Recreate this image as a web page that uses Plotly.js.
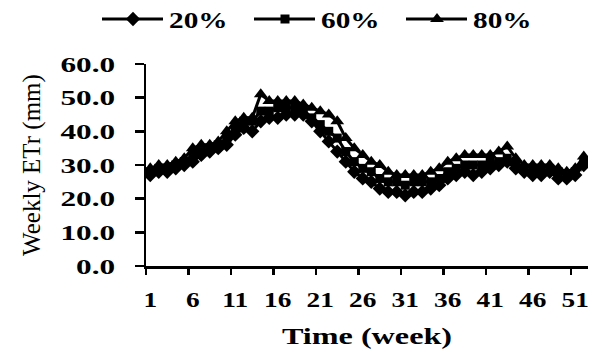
<!DOCTYPE html>
<html>
<head>
<meta charset="utf-8">
<script src="https://cdn.plot.ly/plotly-3.0.1.min.js"></script>
<style>html,body{margin:0;padding:0;background:#fff;}#chart{width:599px;height:349px;}</style>
</head>
<body>
<div id="chart"></div>
<script>
const weeks = Array.from({length: 52}, (_, i) => i + 1);
const seriesNames = ["20%", "60%", "80%"];
const etr20 = [27,28,28,29,30,31,33,34,35,36,39,41,40,43,44,44,45,45,45,43,40,37,34,31,28,26,25,23,22,22,21,22,22,23,24,26,27,28,27,28,29,30,31,29,28,27,27,28,26,26,27,30];
const etr60 = [28,29,29,30,31,33,34,35,36,38,41,43,43,46,46,47,47,47,46,44,42,40,38,34,31,29,28,26,25,25,24,25,25,25,26,28,29,30,30,30,31,31,32,30,29,28,28,29,28,27,28,31];
const etr80 = [29,30,30,31,32,35,36,36,37,40,43,44,44,51,49,49,49,49,48,47,46,45,43,38,35,33,31,30,28,27,27,27,27,28,29,31,32,33,33,33,33,34,35.5,32,30,30,30,30,29,28,29,32.5];
const xTickVals = [1,6,11,16,21,26,31,36,41,46,51];
const yTickVals = [0,10,20,30,40,50,60];
const yTickText = ["0.0","10.0","20.0","30.0","40.0","50.0","60.0"];

const symbols = ["diamond","square","triangle-up"];
const sizes = [11, 9, 12];
const data = [etr20, etr60, etr80].map((ys, i) => ({
  x: weeks, y: ys, name: seriesNames[i], type: "scatter", mode: "lines+markers",
  line: {color: "#000", width: 3},
  marker: {symbol: symbols[i], size: sizes[i], color: "#000"}
}));

const fontFam = "Liberation Serif, Times New Roman, serif";
const layout = {
  width: 599, height: 349,
  margin: {l: 146, r: 11, t: 50, b: 83},
  paper_bgcolor: "#fff", plot_bgcolor: "#fff",
  showlegend: true,
  legend: {orientation: "h", x: 0.3, xanchor: "center", y: 1.15, yanchor: "middle",
           font: {family: fontFam, size: 24, color: "#000", weight: "bold"}},
  xaxis: {
    range: [0.5, 52.5], tickvals: xTickVals, ticks: "", showgrid: false, zeroline: false,
    showline: true, linecolor: "#000", linewidth: 2.5,
    tickfont: {family: fontFam, size: 21, color: "#000", weight: "bold"},
    ticklabelstandoff: 13,
    minor: {tick0: 0.5, dtick: 5, ticks: "outside", ticklen: 6, tickwidth: 2.5, tickcolor: "#000", showgrid: false},
    title: {text: "Time (week)", font: {family: fontFam, size: 23, color: "#000", weight: "bold"}, standoff: 18}
  },
  yaxis: {
    range: [0, 60], tickvals: yTickVals, ticktext: yTickText, ticks: "outside", ticklen: 9, tickwidth: 2.5, tickcolor: "#000",
    showgrid: false, zeroline: false, showline: true, linecolor: "#000", linewidth: 2.5,
    tickfont: {family: fontFam, size: 22, color: "#000", weight: "bold"},
    ticklabelstandoff: 15,
    title: {text: "Weekly ETr (mm)", font: {family: fontFam, size: 25, color: "#000"}, standoff: 29}
  }
};

function stretch(sel, factor) {
  document.querySelectorAll(sel).forEach(t => {
    const len = t.getComputedTextLength();
    if (len > 0) {
      t.setAttribute("textLength", (len * factor).toFixed(2));
      t.setAttribute("lengthAdjust", "spacingAndGlyphs");
    }
  });
}

Plotly.newPlot("chart", data, layout, {displayModeBar: false, staticPlot: true}).then(() => {
  stretch("#chart .xtick text", 1.3);
  stretch("#chart .ytick text", 1.42);
  stretch("#chart .g-xtitle text", 1.4);
  stretch("#chart .legendtext", 1.22);
  const leg = document.querySelector("#chart g.legend");
  if (leg) {
    leg.setAttribute("transform", "translate(0,0)");
    const sb = leg.querySelector(".scrollbox");
    if (sb) sb.removeAttribute("clip-path");
    const bg = leg.querySelector("rect.bg");
    if (bg) bg.setAttribute("width", 0);
    const starts = [102, 254, 406];
    leg.querySelectorAll("g.traces").forEach((g, i) => {
      g.setAttribute("transform", "translate(" + starts[i] + ",19)");
      const ln = g.querySelector("path.js-line");
      if (ln) ln.setAttribute("d", "M0,0h61");
      const pt = g.querySelector("path.scatterpts");
      if (pt) pt.setAttribute("transform", "translate(31,0)");
      const tx = g.querySelector("text.legendtext");
      if (tx) tx.setAttribute("x", 67);
    });
  }
});
</script>
</body>
</html>
